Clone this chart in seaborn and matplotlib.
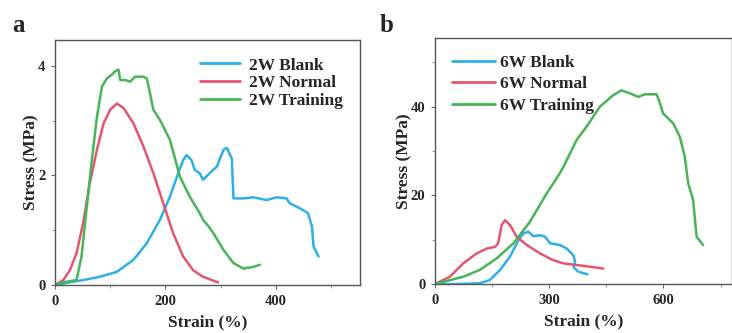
import numpy as np
import pandas as pd
import matplotlib
matplotlib.use("Agg")
import matplotlib.pyplot as plt
from matplotlib.ticker import MultipleLocator
import seaborn as sns

# ---- 2W specimens: strain (%) and stress (MPa) ----
blank_2w_strain = [0, 27, 51, 81, 112, 142, 166, 190, 208, 223, 232, 238, 247, 253, 262, 268,
                   280, 293, 305, 311, 320, 323, 341, 359, 383, 401, 419, 425, 443, 458, 465,
                   468, 477]
blank_2w_stress = [0, 0.05, 0.09, 0.15, 0.24, 0.46, 0.76, 1.19, 1.61, 2.04, 2.28, 2.37, 2.28,
                   2.10, 2.04, 1.92, 2.04, 2.16, 2.47, 2.50, 2.31, 1.58, 1.58, 1.60, 1.55, 1.60,
                   1.58, 1.49, 1.40, 1.31, 1.07, 0.70, 0.52]

normal_2w_strain = [0, 15, 27, 39, 51, 63, 76, 88, 100, 112, 124, 142, 160, 178, 196, 214,
                    232, 250, 268, 295]
normal_2w_stress = [0, 0.09, 0.27, 0.58, 1.13, 1.86, 2.47, 2.95, 3.20, 3.31, 3.23, 2.95, 2.53,
                    2.04, 1.49, 0.94, 0.52, 0.27, 0.15, 0.05]

training_2w_strain = [0, 15, 39, 48, 57, 66, 76, 85, 94, 103, 109, 115, 118, 127, 136, 145,
                      160, 166, 172, 178, 190, 208, 226, 244, 262, 268, 278, 287, 305, 323,
                      341, 359, 371]
training_2w_stress = [0, 0.05, 0.09, 0.52, 1.37, 2.22, 3.07, 3.62, 3.77, 3.84, 3.90, 3.93,
                      3.74, 3.74, 3.71, 3.80, 3.80, 3.77, 3.50, 3.20, 3.01, 2.65, 1.98, 1.61,
                      1.31, 1.19, 1.07, 0.94, 0.64, 0.40, 0.30, 0.33, 0.37]

# ---- 6W specimens: strain (%) and stress (MPa) ----
blank_6w_strain = [0, 60, 118, 144, 171, 197, 219, 232, 245, 258, 276, 289, 302, 328, 346,
                   363, 368, 363, 376, 400]
blank_6w_stress = [0, 0.0, 0.2, 0.9, 3.2, 6.2, 9.9, 11.4, 11.8, 10.8, 11.0, 10.7, 9.2, 8.8,
                   8.0, 6.5, 5.0, 3.9, 2.8, 2.2]

normal_6w_strain = [0, 39, 74, 109, 136, 158, 166, 175, 184, 197, 214, 241, 276, 310, 337,
                    372, 407, 442]
normal_6w_stress = [0, 1.65, 4.66, 6.9, 8.0, 8.4, 9.2, 13.3, 14.4, 13.3, 10.7, 8.8, 6.9, 5.4,
                    4.66, 4.3, 3.9, 3.5]

training_6w_strain = [0, 74, 118, 162, 206, 249, 293, 328, 337, 372, 398, 433, 468, 490, 512,
                      534, 551, 582, 591, 599, 626, 643, 656, 665, 678, 687, 704]
training_6w_stress = [0, 1.65, 3.2, 5.8, 9.2, 14.0, 20.4, 25.0, 26.4, 32.5, 35.5, 40.0, 42.6,
                      43.7, 43.0, 42.2, 42.8, 42.8, 40.7, 38.5, 36.2, 33.2, 28.7, 22.7, 18.9,
                      10.7, 8.8]

labels_2w = ["2W Blank", "2W Normal", "2W Training"]
labels_6w = ["6W Blank", "6W Normal", "6W Training"]
colors = ["#2eb0e6", "#e4566f", "#48b556"]


def long_frame(labels, strains, stresses):
    parts = []
    for lab, s, t in zip(labels, strains, stresses):
        parts.append(pd.DataFrame({"Strain": s, "Stress": t, "Sample": lab}))
    return pd.concat(parts, ignore_index=True)


df_2w = long_frame(labels_2w,
                   [blank_2w_strain, normal_2w_strain, training_2w_strain],
                   [blank_2w_stress, normal_2w_stress, training_2w_stress])
df_6w = long_frame(labels_6w,
                   [blank_6w_strain, normal_6w_strain, training_6w_strain],
                   [blank_6w_stress, normal_6w_stress, training_6w_stress])

sns.set_theme(style="ticks")
plt.rcParams["font.family"] = ["Liberation Serif", "DejaVu Serif"]
plt.rcParams["font.weight"] = "bold"

fig = plt.figure(figsize=(7.32, 3.33), dpi=100)
ax_a = fig.add_axes([0.0751, 0.1441, 0.4167, 0.7358])
ax_b = fig.add_axes([0.5943, 0.147, 0.4057, 0.739])

for ax, df, labels in [(ax_a, df_2w, labels_2w), (ax_b, df_6w, labels_6w)]:
    sns.lineplot(data=df, x="Strain", y="Stress", hue="Sample", hue_order=labels,
                 palette=colors, sort=False, estimator=None, units="Sample",
                 lw=1.8, ax=ax)
    ax.set_xlabel("Strain (%)", fontsize=12.5, fontweight="bold", labelpad=5)
    ax.set_ylabel("Stress (MPa)", fontsize=12.5, fontweight="bold", labelpad=-1)
    for sp in ax.spines.values():
        sp.set_color("#555555")
        sp.set_linewidth(1.0)
    ax.tick_params(which="major", length=3, width=0.8, labelsize=10.5, pad=4,
                   color="#666666")
    ax.tick_params(which="minor", length=2, width=0.6, color="#888888")
    for lab in ax.get_xticklabels() + ax.get_yticklabels():
        lab.set_fontweight("bold")

ax_a.set_xlim(0, 552)
ax_a.set_ylim(0, 4.47)
ax_a.xaxis.set_major_locator(MultipleLocator(200))
ax_a.xaxis.set_minor_locator(MultipleLocator(100))
ax_a.yaxis.set_major_locator(MultipleLocator(2))
ax_a.yaxis.set_minor_locator(MultipleLocator(1))

ax_b.set_xlim(0, 780)
ax_b.set_ylim(0, 55.5)
ax_b.xaxis.set_major_locator(MultipleLocator(300))
ax_b.xaxis.set_minor_locator(MultipleLocator(150))
ax_b.yaxis.set_major_locator(MultipleLocator(20))
ax_b.yaxis.set_minor_locator(MultipleLocator(10))

leg_a = ax_a.legend(loc="upper right", frameon=False, handlelength=2.3,
                    handletextpad=0.5, labelspacing=0.1, borderaxespad=0.6,
                    prop={"weight": "bold", "size": 12.5})
leg_b = ax_b.legend(loc="upper left", frameon=False, handlelength=2.5,
                    handletextpad=0.3, labelspacing=0.32, borderaxespad=0.55,
                    prop={"weight": "bold", "size": 12.5})
for leg in (leg_a, leg_b):
    for line in leg.get_lines():
        line.set_linewidth(2.0)

fig.text(0.017, 0.905, "a", fontsize=18, fontweight="bold")
fig.text(0.518, 0.905, "b", fontsize=18, fontweight="bold")

fig.savefig("out.png", dpi=100)
